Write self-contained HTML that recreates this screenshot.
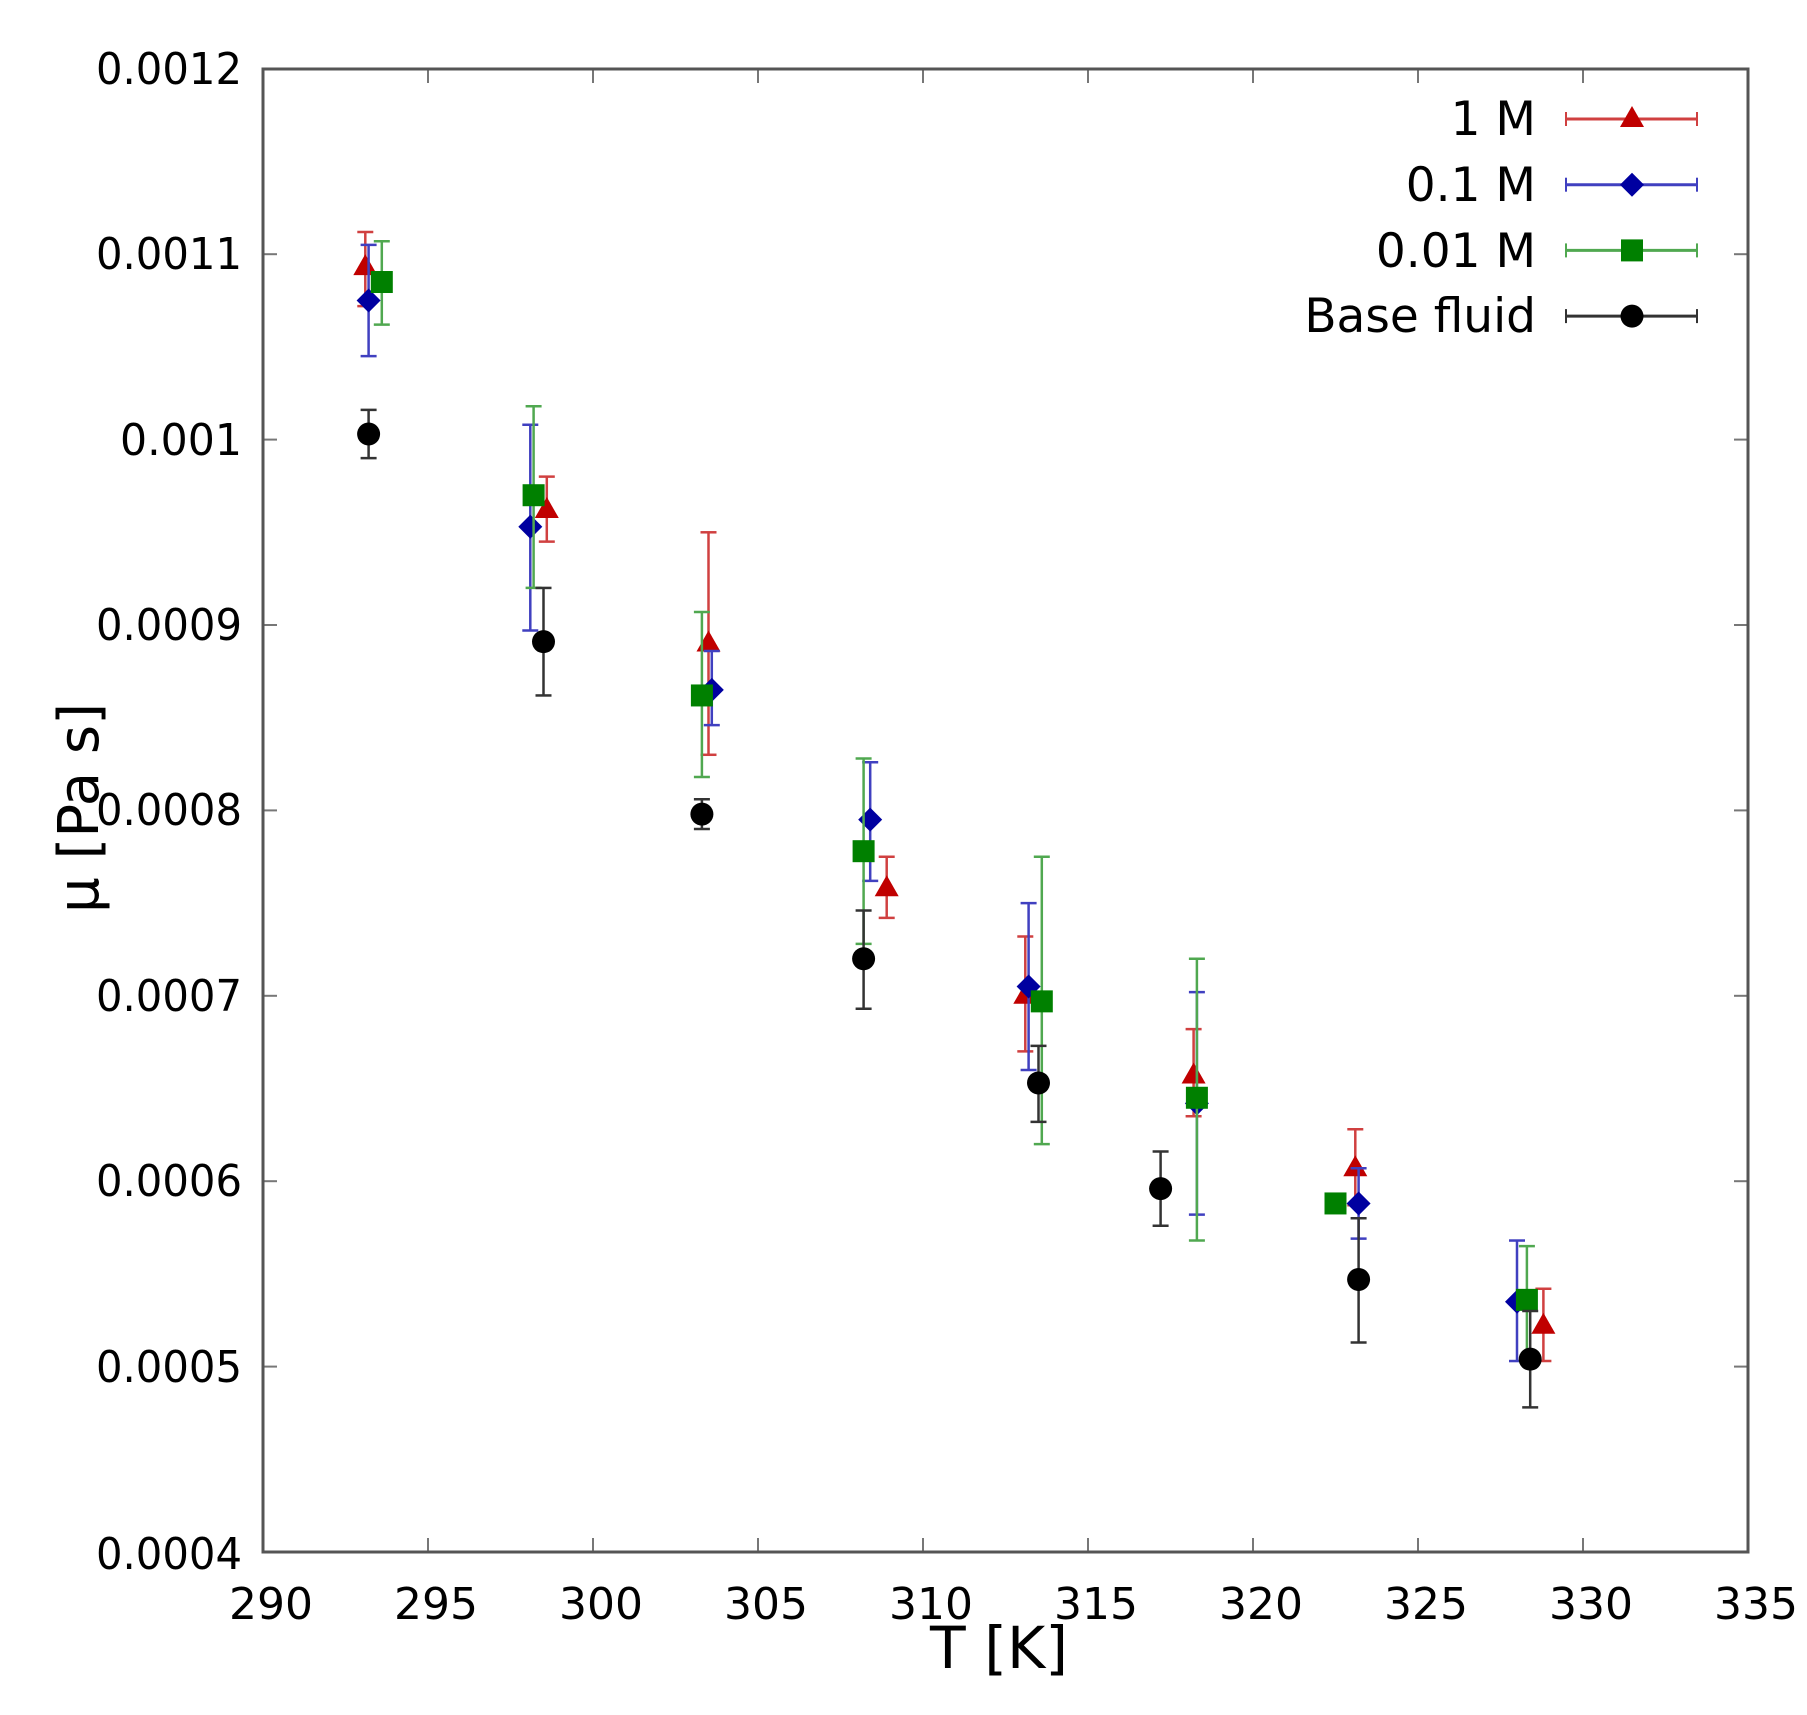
<!DOCTYPE html>
<html><head><meta charset="utf-8"><style>
html,body{margin:0;padding:0;background:#fff;}
svg{display:block;}
text{font-family:"DejaVu Sans","Liberation Sans",sans-serif;fill:#000;}
</style></head><body>
<svg id="s" width="1807" height="1715" viewBox="0 0 1807 1715" xmlns="http://www.w3.org/2000/svg">
<rect width="1807" height="1715" fill="#fff"/>
<g id="ticks" stroke="#777" stroke-width="2"></g>
<rect x="263" y="69" width="1485" height="1483" fill="none" stroke="#555" stroke-width="3"/>
<g font-size="44" text-anchor="end">
<text x="242" y="84" textLength="146" lengthAdjust="spacingAndGlyphs">0.0012</text>
<text x="242" y="269" textLength="146" lengthAdjust="spacingAndGlyphs">0.0011</text>
<text x="242" y="455" textLength="122" lengthAdjust="spacingAndGlyphs">0.001</text>
<text x="242" y="640" textLength="146" lengthAdjust="spacingAndGlyphs">0.0009</text>
<text x="242" y="825" textLength="146" lengthAdjust="spacingAndGlyphs">0.0008</text>
<text x="242" y="1011" textLength="146" lengthAdjust="spacingAndGlyphs">0.0007</text>
<text x="242" y="1196" textLength="146" lengthAdjust="spacingAndGlyphs">0.0006</text>
<text x="242" y="1382" textLength="146" lengthAdjust="spacingAndGlyphs">0.0005</text>
<text x="242" y="1569" textLength="146" lengthAdjust="spacingAndGlyphs">0.0004</text>
</g>
<g font-size="44" text-anchor="middle">
<text x="271" y="1619">290</text><text x="436" y="1619">295</text><text x="601" y="1619">300</text>
<text x="766" y="1619">305</text><text x="931" y="1619">310</text><text x="1096" y="1619">315</text>
<text x="1261" y="1619">320</text><text x="1426" y="1619">325</text><text x="1591" y="1619">330</text>
<text x="1756" y="1619">335</text>
</g>
<text x="999" y="1668" font-size="58" text-anchor="middle" textLength="138" lengthAdjust="spacingAndGlyphs">T [K]</text>
<text transform="translate(98,808) rotate(-90)" font-size="56" text-anchor="middle" textLength="210" lengthAdjust="spacingAndGlyphs">μ [Pa s]</text>
<g font-size="47" text-anchor="end">
<text x="1536" y="135">1 M</text>
<text x="1536" y="201">0.1 M</text>
<text x="1536" y="267">0.01 M</text>
<text x="1536" y="332">Base fluid</text>
</g>
<g id="data"></g>
</svg>
<script>
var NS="http://www.w3.org/2000/svg";
function X(t){return 263+(t-290)*33;}
function Y(v){return 1552-(v-0.0004)*1854000;}
function el(p,tag,a){var e=document.createElementNS(NS,tag);for(var k in a)e.setAttribute(k,a[k]);p.appendChild(e);return e;}
var tk=document.getElementById('ticks');
for(var t=295;t<335;t+=5){var x=X(t);el(tk,'line',{x1:x,y1:1552,x2:x,y2:1538});el(tk,'line',{x1:x,y1:69,x2:x,y2:83});}
for(var i=1;i<8;i++){var y=Y(0.0004+i*0.0001);el(tk,'line',{x1:263,y1:y,x2:277,y2:y});el(tk,'line',{x1:1748,y1:y,x2:1734,y2:y});}
var S=[
 {c:'#c00000',lc:'#d04040',m:'tri',d:[[293.1,0.001093,0.001072,0.001112],[298.6,0.000962,0.000945,0.00098],[303.5,0.00089,0.00083,0.00095],[308.9,0.000758,0.000742,0.000775],[313.1,0.0007,0.00067,0.000732],[318.2,0.000657,0.000635,0.000682],[323.1,0.000607,0.000587,0.000628],[328.8,0.000522,0.000503,0.000542]]},
 {c:'#0000a0',lc:'#4040c0',m:'dia',d:[[293.2,0.001075,0.001045,0.001105],[298.1,0.000953,0.000897,0.001008],[303.6,0.000865,0.000846,0.000886],[308.4,0.000795,0.000762,0.000826],[313.2,0.000705,0.00066,0.00075],[318.3,0.000642,0.000582,0.000702],[323.2,0.000588,0.000569,0.000607],[328,0.000535,0.000503,0.000568]]},
 {c:'#008000',lc:'#50a850',m:'sq',d:[[293.6,0.001085,0.001062,0.001107],[298.2,0.00097,0.00092,0.001018],[303.3,0.000862,0.000818,0.000907],[308.2,0.000778,0.000728,0.000828],[313.6,0.000697,0.00062,0.000775],[318.3,0.000645,0.000568,0.00072],[322.5,0.000588,0.000585,0.000591],[328.3,0.000536,0.000503,0.000565]]},
 {c:'#000',lc:'#333',m:'cir',d:[[293.2,0.001003,0.00099,0.001016],[298.5,0.000891,0.000862,0.00092],[303.3,0.000798,0.00079,0.000806],[308.2,0.00072,0.000693,0.000746],[313.5,0.000653,0.000632,0.000673],[317.2,0.000596,0.000576,0.000616],[323.2,0.000547,0.000513,0.00058],[328.4,0.000504,0.000478,0.00053]]}
];
var g=document.getElementById('data');
function mark(m,x,y,c){
 if(m=='tri')el(g,'polygon',{points:(x-12)+','+(y+8)+' '+(x+12)+','+(y+8)+' '+x+','+(y-13),fill:c});
 else if(m=='dia')el(g,'polygon',{points:(x-12)+','+y+' '+x+','+(y-12)+' '+(x+12)+','+y+' '+x+','+(y+12),fill:c});
 else if(m=='sq')el(g,'rect',{x:x-11,y:y-11,width:22,height:22,fill:c});
 else el(g,'circle',{cx:x,cy:y,r:11.5,fill:c});
}
S.forEach(function(s,k){
 s.d.forEach(function(p){var x=X(p[0]),y=Y(p[1]),a=Y(p[2]),b=Y(p[3]);
  el(g,'line',{x1:x,y1:a,x2:x,y2:b,stroke:s.lc,'stroke-width':2.5});
  el(g,'line',{x1:x-8,y1:a,x2:x+8,y2:a,stroke:s.lc,'stroke-width':2.5});
  el(g,'line',{x1:x-8,y1:b,x2:x+8,y2:b,stroke:s.lc,'stroke-width':2.5});
  mark(s.m,x,y,s.c);});
 var ly=119+k*65.7;
 el(g,'line',{x1:1566,y1:ly,x2:1697,y2:ly,stroke:s.lc,'stroke-width':3});
 el(g,'line',{x1:1566,y1:ly-7,x2:1566,y2:ly+7,stroke:s.lc,'stroke-width':2});
 el(g,'line',{x1:1697,y1:ly-7,x2:1697,y2:ly+7,stroke:s.lc,'stroke-width':2});
 mark(s.m,1632,ly,s.c);
});
</script>
</body></html>
